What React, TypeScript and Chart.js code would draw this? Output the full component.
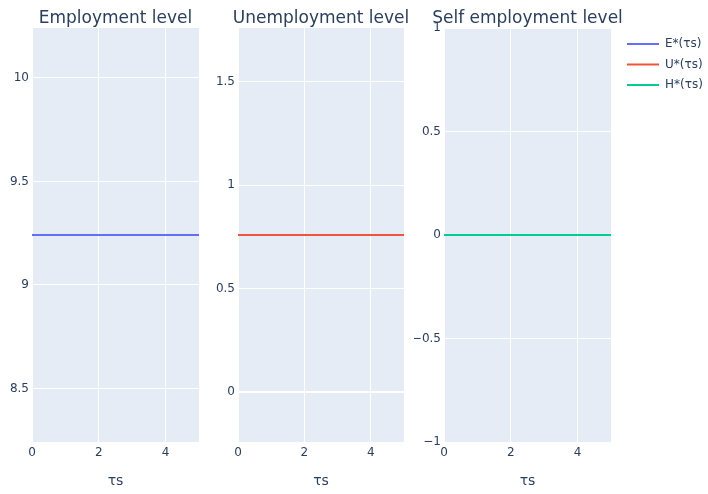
import React, { useEffect, useRef } from 'react';
import { Chart, registerables } from 'chart.js';

Chart.register(...registerables);

// ---- data ----
const tsValues = [0, 1, 2, 3, 4, 5];
const employmentLevel = [9.2415, 9.2415, 9.2415, 9.2415, 9.2415, 9.2415];
const unemploymentLevel = [0.7585, 0.7585, 0.7585, 0.7585, 0.7585, 0.7585];
const selfEmploymentLevel = [0, 0, 0, 0, 0, 0];

const xTickValues = [0, 2, 4];
const employmentTicks = [8.5, 9, 9.5, 10];
const unemploymentTicks = [0, 0.5, 1, 1.5];
const selfEmploymentTicks = [-1, -0.5, 0, 0.5, 1];

const employmentRange = [8.2415, 10.2415];
const unemploymentRange = [-0.2415, 1.7585];
const selfEmploymentRange = [-1, 1];
const xRange = [0, 5];

const panelTitles = ['Employment level', 'Unemployment level', 'Self employment level'];
const seriesLabels = ['E*(τs)', 'U*(τs)', 'H*(τs)'];
const seriesColors = ['#636efa', '#EF553B', '#00cc96'];
const xAxisTitle = 'τs';

// ---- layout / style ----
const W = 708;
const H = 494;
const FONT = "'DejaVu Sans', Verdana, sans-serif";
const TEXT = '#2a3f5f';
const PLOT_BG = '#E5ECF6';
const panelEdges = [
  [32, 199],
  [238, 404],
  [444, 611],
];
const PLOT_TOP = 28;
const PLOT_BOTTOM = 442;
const Y_AXIS_W = 30;

const fmt = (v: number) => (v < 0 ? '\u2212' + String(Math.abs(v)) : String(v));

const bgPlugin = {
  id: 'plotBg',
  beforeDraw(chart: any) {
    const { ctx, chartArea } = chart;
    ctx.save();
    ctx.fillStyle = PLOT_BG;
    ctx.fillRect(chartArea.left, chartArea.top, chartArea.right - chartArea.left, chartArea.bottom - chartArea.top);
    ctx.restore();
  },
};

const titlePlugin = {
  id: 'panelTitle',
  afterDraw(chart: any, _args: any, opts: any) {
    const { ctx, chartArea } = chart;
    ctx.save();
    ctx.font = `17px ${FONT}`;
    ctx.fillStyle = TEXT;
    ctx.textAlign = 'center';
    ctx.textBaseline = 'alphabetic';
    ctx.fillText(opts.text, (chartArea.left + chartArea.right) / 2, 23);
    ctx.restore();
  },
};

const legendPlugin = {
  id: 'sideLegend',
  afterDraw(chart: any, _args: any, opts: any) {
    if (!opts.show) return;
    const { ctx } = chart;
    const ys = [44, 64.5, 85];
    ctx.save();
    ctx.font = `12px ${FONT}`;
    ctx.textAlign = 'left';
    ctx.textBaseline = 'middle';
    seriesLabels.forEach((label, i) => {
      ctx.strokeStyle = seriesColors[i];
      ctx.lineWidth = 2;
      ctx.beginPath();
      ctx.moveTo(627, ys[i]);
      ctx.lineTo(659, ys[i]);
      ctx.stroke();
      ctx.fillStyle = TEXT;
      ctx.fillText(label, 665, ys[i]);
    });
    ctx.restore();
  },
};

const panelData = [employmentLevel, unemploymentLevel, selfEmploymentLevel];
const panelTicks = [employmentTicks, unemploymentTicks, selfEmploymentTicks];
const panelRanges = [employmentRange, unemploymentRange, selfEmploymentRange];

function makeConfig(i: number): any {
  const [left, right] = panelEdges[i];
  return {
    type: 'line',
    data: {
      datasets: [
        {
          label: seriesLabels[i],
          data: tsValues.map((t, k) => ({ x: t, y: panelData[i][k] })),
          borderColor: seriesColors[i],
          backgroundColor: seriesColors[i],
          borderWidth: 2,
          pointRadius: 0,
          fill: false,
          tension: 0,
        },
      ],
    },
    options: {
      animation: false,
      responsive: false,
      events: [],
      layout: {
        padding: {
          left: left - Y_AXIS_W,
          right: W - right,
          top: PLOT_TOP,
          bottom: 0,
        },
      },
      plugins: {
        legend: { display: false },
        tooltip: { enabled: false },
        title: { display: false },
        panelTitle: { text: panelTitles[i] },
        sideLegend: { show: i === 2 },
      },
      scales: {
        x: {
          type: 'linear',
          min: xRange[0],
          max: xRange[1],
          afterBuildTicks(scale: any) {
            scale.ticks = xTickValues.map((v) => ({ value: v }));
          },
          afterFit(scale: any) {
            scale.height = H - PLOT_BOTTOM;
          },
          grid: { color: '#ffffff', lineWidth: 1, drawTicks: false },
          border: { display: false },
          ticks: {
            color: TEXT,
            font: { family: FONT, size: 12 },
            padding: 4,
            maxRotation: 0,
            autoSkip: false,
            callback: (v: any) => fmt(Number(v)),
          },
          title: {
            display: true,
            text: xAxisTitle,
            color: TEXT,
            font: { family: FONT, size: 14 },
            padding: { top: 0, bottom: 4 },
          },
        },
        y: {
          type: 'linear',
          min: panelRanges[i][0],
          max: panelRanges[i][1],
          afterBuildTicks(scale: any) {
            scale.ticks = panelTicks[i].map((v) => ({ value: v }));
          },
          afterFit(scale: any) {
            scale.width = Y_AXIS_W;
          },
          grid: {
            color: '#ffffff',
            drawTicks: false,
            lineWidth: (ctx: any) => (ctx.tick && ctx.tick.value === 0 ? 2 : 1),
          },
          border: { display: false },
          ticks: {
            color: TEXT,
            font: { family: FONT, size: 12 },
            padding: 3,
            autoSkip: false,
            callback: (v: any) => fmt(Number(v)),
          },
        },
      },
    },
    plugins: [bgPlugin, titlePlugin, legendPlugin],
  };
}

function Panel({ index }: { index: number }) {
  const ref = useRef<HTMLCanvasElement | null>(null);
  useEffect(() => {
    if (!ref.current) return;
    const chart = new Chart(ref.current, makeConfig(index));
    return () => chart.destroy();
  }, [index]);
  return (
    <canvas
      ref={ref}
      width={W}
      height={H}
      style={{ position: 'absolute', left: 0, top: 0, width: W, height: H }}
    />
  );
}

export default function App() {
  return (
    <div
      style={{
        position: 'absolute',
        left: 0,
        top: 0,
        width: W,
        height: H,
        background: '#ffffff',
        overflow: 'hidden',
      }}
    >
      <Panel index={0} />
      <Panel index={1} />
      <Panel index={2} />
    </div>
  );
}
